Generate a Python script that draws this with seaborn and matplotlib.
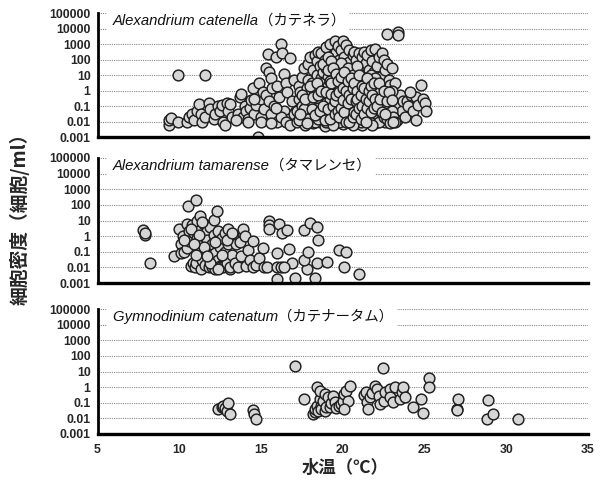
import matplotlib
matplotlib.use("Agg")
import matplotlib.pyplot as plt
import matplotlib.transforms as mtransforms
from matplotlib.patches import Rectangle
import seaborn as sns
import pandas as pd
from matplotlib.ticker import FixedLocator, FixedFormatter

# ---------------- data ----------------
# Alexandrium catenella (water temperature, cells/ml)
ac_temp = [
    9.4, 9.4, 9.5, 9.9, 9.9, 11.6,
    10.5, 10.6, 10.8, 10.9, 11.1, 11.2, 11.3, 11.4, 11.6, 11.8, 11.9, 12.1, 12.2, 12.4,
    12.5, 12.6, 12.7, 12.8, 12.9, 13.0, 13.1, 13.2,
    13.6, 13.7, 13.8, 13.9, 14.0, 14.1, 14.2, 14.3, 14.4, 14.5, 14.6, 14.7, 14.8, 14.9,
    15.0, 15.0, 15.1, 15.2, 15.3, 15.3, 15.4, 15.5, 15.5, 15.6, 15.6, 15.7, 15.8, 15.9,
    16.0, 16.0, 16.1, 16.2, 16.3, 16.4, 16.4, 16.5, 16.6, 16.7, 16.8, 16.9, 17.0, 17.1,
    14.2, 15.0, 15.6, 16.2, 16.5, 16.8, 17.0, 13.5, 14.6, 15.9,
    17.2, 17.2, 17.3, 17.3, 17.4, 17.4, 17.5, 17.5, 17.6, 17.6, 17.6,
    17.7, 17.7, 17.8, 17.8, 17.9, 17.9, 17.9, 18.0, 18.0, 18.0, 18.0,
    18.1, 18.1, 18.2, 18.2, 18.2, 18.3, 18.3, 18.3, 18.4, 18.4, 18.4, 18.4,
    18.5, 18.5, 18.5, 18.6, 18.6, 18.6, 18.7, 18.7, 18.7, 18.8, 18.8, 18.8,
    18.9, 18.9, 18.9, 19.0, 19.0, 19.0, 19.0, 19.1, 19.1, 19.1, 19.2, 19.2, 19.2, 19.2,
    19.3, 19.3, 19.3, 19.4, 19.4, 19.4, 19.4, 19.5, 19.5, 19.5, 19.6, 19.6, 19.6, 19.6,
    19.7, 19.7, 19.7, 19.8, 19.8, 19.8, 19.8, 19.9, 19.9, 19.9, 20.0, 20.0, 20.0, 20.0, 20.0,
    20.1, 20.1, 20.1, 20.2, 20.2, 20.2, 20.3, 20.3, 20.3, 20.4, 20.4, 20.4, 20.4,
    20.5, 20.5, 20.5, 20.6, 20.6, 20.6, 20.7, 20.7, 20.7, 20.8, 20.8, 20.8, 20.8,
    20.9, 20.9, 21.0, 21.0, 21.0, 21.1, 21.1, 21.1, 21.2, 21.2, 21.2,
    21.3, 21.3, 21.3, 21.4, 21.4, 21.4, 21.5, 21.5, 21.5, 21.6, 21.6, 21.6,
    21.7, 21.7, 21.7, 21.8, 21.8, 21.8, 21.9, 21.9, 22.0, 22.0, 22.0, 22.0,
    22.1, 22.1, 22.2, 22.2, 22.3, 22.3, 22.4, 22.4, 22.4,
    22.5, 22.5, 22.5, 22.6, 22.6, 22.6, 22.7, 22.7, 22.8, 22.8,
    22.9, 22.9, 23.0, 23.0, 23.1, 23.1, 23.2, 23.2, 23.3, 23.3,
    23.5, 23.6, 23.7, 23.8, 23.9, 24.0, 24.2, 24.3, 24.5, 24.5, 24.6, 24.8, 24.9, 25.0, 25.1, 24.1,
    22.7, 23.4, 23.4,
    17.3, 17.5, 17.8, 18.0, 18.1, 18.2, 18.3, 18.4, 18.5, 18.6, 18.7, 18.8, 18.9, 19.0,
    19.0, 19.1, 19.1, 19.2, 19.3, 19.3, 19.4, 19.5, 19.5, 19.6, 19.6, 19.7, 19.7, 19.8,
    19.8, 19.9, 19.9, 20.0, 20.0, 20.1, 20.1, 20.2, 20.2, 20.3, 20.3, 20.4, 20.5, 20.5,
    20.6, 20.6, 20.7, 20.7, 20.8, 20.9, 20.9, 21.0, 21.0, 21.1, 21.1, 21.2, 21.2, 21.3,
    21.3, 21.4, 21.4, 21.5, 21.5, 21.6, 21.6, 21.7, 21.7, 21.8, 21.8, 21.9, 21.9, 22.0,
    22.0, 22.1, 22.1, 22.2, 22.2, 22.3, 22.3, 22.4, 22.5, 22.5, 22.6, 22.7, 22.8, 23.0,
    23.0, 23.1, 23.2, 18.0, 17.6, 17.9, 18.5, 19.4, 20.6, 21.8, 22.9,
    17.4, 17.7, 17.8, 18.0, 18.1, 18.2, 18.3, 18.4, 18.5, 18.6, 18.7, 18.8, 18.9, 19.0,
    19.1, 19.1, 19.2, 19.2, 19.3, 19.3, 19.4, 19.4, 19.5, 19.5, 19.6, 19.6, 19.7, 19.7,
    19.8, 19.8, 19.9, 19.9, 20.0, 20.0, 20.1, 20.1, 20.2, 20.2, 20.3, 20.3, 20.4, 20.4,
    20.5, 20.5, 20.6, 20.6, 20.7, 20.7, 20.8, 20.8, 20.9, 20.9, 21.0, 21.0, 21.1, 21.1,
    21.2, 21.2, 21.3, 21.3, 21.4, 21.4, 21.5, 21.5, 21.6, 21.6, 21.7, 21.7, 21.8, 21.9,
    21.9, 22.0, 22.1, 22.2, 22.3, 22.4, 22.5, 22.6, 22.7, 22.8, 23.0, 23.1,
]
ac_cells = [
    0.006, 0.012, 0.018, 0.01, 10, 10,
    0.01, 0.02, 0.03, 0.012, 0.05, 0.13, 0.03, 0.01, 0.02, 0.15, 0.06, 0.015, 0.03, 0.1,
    0.05, 0.12, 0.01, 0.006, 0.15, 0.05, 0.13, 0.02,
    0.03, 0.4, 0.6, 0.02, 0.1, 0.05, 0.015, 0.08, 0.25, 1.4, 0.03, 0.12, 0.001, 3,
    0.3, 0.02, 0.8, 0.06, 27, 0.5, 220, 16, 0.2, 6, 0.03, 1.5, 0.1, 150,
    2, 0.01, 0.4, 950, 250, 12, 0.05, 3, 0.8, 0.015, 120, 0.2, 5, 0.04,
    0.01, 0.01, 0.008, 0.02, 0.01, 0.006, 0.03, 0.012, 0.3, 0.07,
    0.01, 0.05, 0.3, 2, 0.02, 0.8, 8, 0.1, 0.015, 0.4, 30,
    0.006, 0.07, 1.5, 0.03, 0.2, 5, 50, 0.01, 0.6, 150, 0.04,
    0.02, 3, 0.12, 20, 0.008, 200, 0.5, 0.05, 1, 10, 0.015, 80,
    0.03, 300, 2, 0.3, 0.01, 40, 6, 0.08, 250, 0.02, 0.9, 15,
    0.005, 100, 0.2, 3, 0.04, 600, 30, 0.012, 0.6, 8, 1000, 0.1, 60, 0.025,
    0.3, 15, 0.008, 200, 2, 0.05, 0.015, 1500, 40, 0.4, 5, 0.02, 300, 0.12,
    800, 1, 0.01, 100, 10, 0.06, 0.25, 400, 3, 0.018, 1600, 20, 0.6, 0.035, 0.007,
    150, 1.5, 0.1, 900, 50, 0.012, 8, 0.3, 0.04, 400, 2.5, 0.02, 70,
    25, 0.15, 0.008, 200, 4, 0.05, 0.5, 300, 12, 0.02, 1.2, 100, 0.01,
    6, 0.08, 250, 0.3, 0.015, 30, 2, 0.04, 0.6, 150, 0.006,
    300, 10, 0.1, 0.02, 1, 60, 200, 0.25, 0.01, 5, 0.05, 20,
    400, 0.7, 0.012, 3, 0.15, 80, 0.03, 15, 450, 1.5, 0.06, 0.008,
    40, 0.4, 150, 0.02, 8, 0.1, 250, 0.9, 0.015,
    100, 2, 0.05, 20, 0.3, 0.01, 55, 0.7, 0.03, 5,
    2.2, 0.15, 30, 0.02, 0.5, 0.06, 0.3, 3, 0.012, 0.1,
    0.5, 0.05, 0.2, 0.02, 0.2, 0.1, 0.5, 0.05, 0.012, 0.4, 0.12, 2.2, 0.3, 0.15, 0.05, 0.8,
    4500, 6000, 4000,
    0.012, 0.5, 0.2, 0.03, 0.3, 1.5, 0.01, 0.2, 0.08, 3, 0.02, 50, 0.5, 0.01,
    0.15, 2, 150, 0.3, 0.04, 80, 0.6, 0.012, 5, 1, 0.04, 0.15, 25, 0.01,
    2, 0.3, 60, 0.1, 5, 0.015, 0.5, 3, 0.2, 30, 0.01, 0.08, 1, 0.03,
    0.3, 10, 0.01, 0.1, 0.4, 0.02, 40, 0.05, 3, 0.2, 0.01, 8, 0.03, 0.5,
    0.012, 0.08, 4, 1.5, 0.03, 0.4, 0.012, 0.1, 10, 0.02, 1, 0.3, 0.01, 0.15,
    6, 0.03, 2, 0.6, 0.01, 0.05, 1, 0.2, 0.02, 0.4, 0.08, 0.015, 0.2, 0.05,
    1, 0.02, 0.01, 0.1, 0.06, 0.015, 0.015, 0.006, 0.006, 0.006, 0.008,
    0.03, 0.3, 0.008, 2, 0.06, 0.4, 0.025, 3, 0.5, 0.05, 1, 0.1, 0.012, 0.8,
    0.06, 20, 4, 0.015, 0.6, 3, 0.1, 30, 0.2, 0.03, 12, 0.5, 0.05, 4,
    0.8, 0.02, 8, 0.08, 1.5, 0.25, 0.04, 15, 0.01, 1, 0.15, 4, 0.5, 0.01,
    6, 0.3, 0.02, 1.5, 0.04, 3, 0.2, 0.03, 1, 0.3, 0.08, 10, 0.5, 0.015,
    2, 0.1, 0.03, 1.5, 0.3, 0.01, 6, 0.08, 1, 0.2, 0.04, 2, 0.5, 0.07,
    3, 0.3, 0.1, 3, 0.3, 0.04, 1, 0.03, 0.2, 0.8, 0.25, 0.01,
]

# Alexandrium tamarense
at_temp = [
    7.8, 7.9, 7.9, 8.2, 9.7, 10.0, 10.1, 10.1, 10.2, 10.3, 10.45, 10.5, 10.55, 10.6, 10.6,
    10.7, 10.8, 10.85, 10.9, 10.96, 11.0, 11.0, 11.1, 11.1, 11.27, 11.2, 11.3, 11.3, 11.4,
    11.4, 11.5, 11.5, 11.6, 11.6, 11.7, 11.7, 11.8, 11.8, 11.9, 12.0, 12.0, 12.0, 12.1,
    12.1, 12.2, 12.2, 12.3, 12.3, 12.4, 12.4, 12.5, 12.5, 12.5, 12.6, 12.7, 12.7, 12.8,
    12.8, 12.9, 13.0, 13.0, 13.1, 13.1, 13.2, 13.3, 13.3, 13.4, 13.5, 13.6, 13.7, 13.8,
    13.9, 14.0, 14.1, 14.2, 14.3, 14.5, 14.5, 14.7, 14.9, 15.1, 15.2, 15.35,
    15.5, 15.5, 15.5, 16.1, 16.26, 16.6, 17.6, 18.0, 18.4, 18.5, 16.0, 16.7, 16.9,
    16.0, 16.2, 16.4, 16.0, 17.1, 17.8, 17.6, 17.9, 18.3, 18.4, 19.05, 19.8, 20.2,
    20.1, 21.0,
    10.3, 10.7, 11.0, 11.2, 11.5, 11.9, 12.2, 12.6, 12.9, 13.2, 11.4, 10.9, 12.4, 11.7,
]
at_cells = [
    2.5, 1.2, 1.6, 0.018, 0.05, 3, 0.3, 0.08, 1, 0.1, 0.17, 6, 80, 2, 0.5,
    0.012, 5, 0.02, 1.5, 0.01, 200, 0.02, 10, 0.8, 20, 0.1, 3, 0.008, 0.4,
    0.03, 6, 1, 0.015, 0.15, 2, 0.6, 0.01, 0.05, 4, 0.3, 0.02, 0.01, 11,
    1.2, 0.008, 0.08, 40, 0.5, 0.03, 2, 0.012, 0.2, 0.01, 0.8, 0.05, 0.01, 1.5,
    0.1, 0.02, 3, 0.3, 0.008, 0.01, 0.06, 1.2, 0.8, 0.02, 0.3, 0.01, 0.4, 0.05,
    3, 1, 0.012, 0.13, 0.03, 0.5, 0.011, 0.015, 0.04, 0.18, 0.011, 0.011,
    10, 5, 3, 6, 1.7, 2.3, 2.3, 7, 4, 0.6, 0.08, 0.15, 0.02,
    0.011, 0.011, 0.011, 0.0017, 0.002, 0.0075, 0.03, 0.1, 0.002, 0.02, 0.022, 0.13, 0.1,
    0.011, 0.004,
    0.6, 3, 0.06, 1.2, 0.2, 0.02, 0.4, 0.06, 0.6, 1.5, 8, 0.3, 0.008, 0.05,
]

# Gymnodinium catenatum
gc_temp = [
    12.4, 12.6, 12.7, 12.8, 12.9, 13.0, 13.1, 14.5, 14.6, 14.7, 17.1, 17.6,
    18.2, 18.3, 18.3, 18.4, 18.4, 18.5, 18.6, 18.6, 18.7, 18.7, 18.8, 18.9, 18.9,
    19.0, 19.1, 19.2, 19.3, 19.4, 19.5, 19.6, 19.8, 19.9, 20.0, 20.1, 20.2, 20.3,
    20.45, 20.1, 21.3, 21.4, 21.5, 21.55, 21.65, 21.8, 22.0, 22.1, 22.2, 22.3,
    22.44, 22.5, 22.6, 22.9, 22.9, 23.1, 23.2, 23.5, 23.6, 23.7, 23.8, 24.3, 24.8,
    24.9, 25.3, 25.3, 27.0, 27.0, 27.07, 28.8, 28.9, 29.2, 30.7,
]
gc_cells = [
    0.04, 0.055, 0.065, 0.045, 0.03, 0.09, 0.019, 0.035, 0.02, 0.009, 21, 0.18,
    0.019, 0.025, 0.04, 1.0, 0.06, 0.03, 0.17, 0.6, 0.065, 0.04, 0.13, 0.35, 0.03,
    0.05, 0.22, 0.05, 0.1, 0.27, 0.11, 0.045, 0.065, 0.08, 0.13, 0.35, 0.6, 0.13,
    1.1, 0.04, 0.3, 0.46, 0.12, 0.04, 0.22, 0.45, 1.2, 0.8, 0.28, 0.08,
    18, 0.13, 0.46, 0.8, 0.22, 0.11, 1.0, 0.17, 0.46, 1.0, 0.25, 0.05, 0.17,
    0.022, 4, 1.0, 0.04, 0.035, 0.17, 0.009, 0.16, 0.02, 0.009,
]

species = [
    ("Alexandrium catenella", "（カテネラ）"),
    ("Alexandrium tamarense", "（タマレンセ）"),
    ("Gymnodinium catenatum", "（カテナータム）"),
]
y_ticks = [0.001, 0.01, 0.1, 1, 10, 100, 1000, 10000, 100000]
y_labels = ["0.001", "0.01", "0.1", "1", "10", "100", "1000", "10000", "100000"]
x_ticks = [5, 10, 15, 20, 25, 30, 35]
x_label = "水温（℃）"
y_label = "細胞密度（細胞/ml）"

# ---------------- figure ----------------
sns.set_style("white")
plt.rcParams["font.family"] = ["Liberation Sans", "Noto Sans CJK JP", "DejaVu Sans"]

W, H = 604, 488
fig = plt.figure(figsize=(W / 100, H / 100), dpi=100)

x0, x1 = 97.5, 588.0
panels_px = [(13, 137), (158, 283), (309, 434)]
datasets = [(ac_temp, ac_cells), (at_temp, at_cells), (gc_temp, gc_cells)]
titles = []

for i, ((top, bot), (tt, cc), (sp, jp)) in enumerate(zip(panels_px, datasets, species)):
    ax = fig.add_axes([x0 / W, 1 - bot / H, (x1 - x0) / W, (bot - top) / H])
    df = pd.DataFrame({"temp": tt, "cells": cc})
    sns.scatterplot(data=df, x="temp", y="cells", ax=ax, s=60,
                    color="#d6d6d6", edgecolor="#1e1e1e", linewidth=1.05,
                    zorder=2, legend=False)
    ax.set_yscale("log")
    ax.set_ylim(0.001, 100000)
    ax.set_xlim(5, 35)
    ax.yaxis.set_major_locator(FixedLocator(y_ticks))
    ax.yaxis.set_major_formatter(FixedFormatter(y_labels))
    ax.yaxis.set_minor_locator(FixedLocator([]))
    ax.set_xticks(x_ticks)
    ax.set_xlabel("")
    ax.set_ylabel("")
    ax.set_axisbelow(True)
    ax.yaxis.grid(True, linestyle=(0, (1, 1)), color="#8a8a8a", linewidth=0.8)
    ax.xaxis.grid(False)
    for s in ("top", "right"):
        ax.spines[s].set_visible(False)
    ax.spines["left"].set_linewidth(2.0)
    ax.spines["bottom"].set_linewidth(2.4)
    ax.spines["left"].set_color("black")
    ax.spines["bottom"].set_color("black")
    ax.tick_params(axis="y", which="major", direction="out", length=3, width=1,
                   pad=2, labelsize=8.8, color="black")
    ax.tick_params(axis="x", which="major", direction="out", length=4, width=1.5,
                   pad=3, labelsize=8.8, color="black", labelbottom=(i == 2))
    for lab in ax.get_yticklabels() + ax.get_xticklabels():
        lab.set_fontweight("bold")
        lab.set_fontfamily("Liberation Sans")

    yc = 1 - 7.5 / (bot - top)
    t1 = ax.text(0.032, yc, sp, transform=ax.transAxes, fontsize=10.7,
                 fontstyle="italic", fontfamily="Liberation Sans", va="center",
                 ha="left", color="#111111", zorder=5)
    t2 = ax.annotate(jp, xy=(1, 0.5), xycoords=t1, fontsize=10.4,
                     fontfamily=["Noto Sans CJK JP"], va="center", ha="left",
                     color="#111111", zorder=5)
    titles.append((ax, t1, t2))

fig.text(345 / W, 1 - 468 / H, x_label, ha="center", va="center", fontsize=12.5,
         fontweight="bold", fontfamily=["Noto Sans CJK JP"])
fig.text(20 / W, 1 - 214 / H, y_label, ha="center", va="center", rotation=90,
         fontsize=13.5, fontweight="bold", fontfamily=["Noto Sans CJK JP"])

# white box behind each panel title, hiding the gridlines there
fig.canvas.draw()
renderer = fig.canvas.get_renderer()
for ax, t1, t2 in titles:
    b1 = t1.get_window_extent(renderer)
    b2 = t2.get_window_extent(renderer)
    xa = b1.x0 - 6
    xb = b2.x1 + 4
    ya = min(b1.y0, b2.y0) - 4
    yb = max(b1.y1, b2.y1) + 4
    rect = Rectangle((xa, ya), xb - xa, yb - ya, transform=mtransforms.IdentityTransform(),
                     facecolor="white", edgecolor="none", zorder=4, clip_on=False)
    ax.add_patch(rect)

fig.savefig("out.png", dpi=100)
